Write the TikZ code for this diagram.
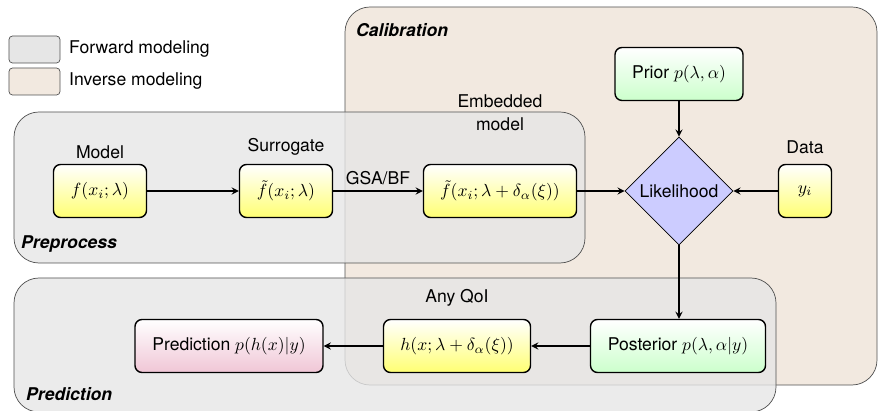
\documentclass[tikz,border=0pt]{standalone}
\usepackage{fontspec}
\setmainfont{TeX Gyre Heros}
\usetikzlibrary{arrows,%
                shapes.geometric,%
                positioning}
\usepackage{amsmath}
\definecolor{calibfill}{RGB}{242,233,224}
\definecolor{fwdfill}{RGB}{230,230,230}
\definecolor{predpink}{RGB}{240,198,214}
\definecolor{boxline}{RGB}{80,80,80}

\begin{document}
\begin{tikzpicture}[>=stealth]
\tikzstyle{group} = [draw=boxline,rounded corners=0.5cm]
\tikzstyle{legend} = [draw=boxline,rounded corners=2pt]
\tikzstyle{grouplabel} = [anchor=west,font=\bfseries\itshape]
\tikzstyle{block} = [draw,thick,rounded corners=4pt,minimum height=1.06cm]
\tikzstyle{yblock} = [block,top color=white,bottom color=yellow!55]
\tikzstyle{gblock} = [block,top color=white,bottom color=green!20]
\tikzstyle{pblock} = [block,top color=white,bottom color=predpink]
\tikzstyle{check} = [draw,shape=diamond,fill=blue!20,minimum width=2.16cm,minimum height=2.16cm,inner sep=0pt]
\tikzstyle{edge} = [draw,thick,->]

\useasboundingbox (0,0) rectangle (17.56,8.2);

% groups
\draw[group,fill=calibfill] (6.9,0.5) rectangle (17.54,8.06);
\draw[group,fill=fwdfill,fill opacity=0.8] (0.28,2.94) rectangle (11.7,5.96);
\draw[group,fill=fwdfill,fill opacity=0.8] (0.28,-0.04) rectangle (15.52,2.64);
\draw (7.0,7.6) node[grouplabel] (calib) {Calibration};
\draw (0.3,3.32) node[grouplabel] (prep) {Preprocess};
\draw (0.4,0.32) node[grouplabel] (predict) {Prediction};

% legend
\draw[legend,fill=fwdfill] (0.18,6.94) rectangle (1.2,7.48);
\draw[legend,fill=calibfill] (0.18,6.3) rectangle (1.2,6.84);
\draw (1.26,7.22) node[anchor=west] (fwd) {Forward modeling};
\draw (1.26,6.58) node[anchor=west] (inv) {Inverse modeling};

% blocks
\draw (2.0,4.38) node[yblock,minimum width=1.86cm] (model) {$f(x_i;\lambda)$};
\draw (5.72,4.38) node[yblock,minimum width=1.86cm] (surr) {$\tilde{f}(x_i;\lambda)$};
\draw (10.0,4.38) node[yblock,minimum width=3.06cm] (embed) {$\tilde{f}(x_i;\lambda+\delta_\alpha(\xi))$};
\draw (13.58,4.38) node[check] (lik) {Likelihood};
\draw (16.1,4.38) node[yblock,minimum width=1.06cm] (data) {$y_i$};
\draw (13.58,6.72) node[gblock,minimum width=2.56cm] (prior) {Prior $p(\lambda,\alpha)$};
\draw (13.56,1.28) node[gblock,minimum width=3.5cm] (post) {Posterior $p(\lambda,\alpha|y)$};
\draw (9.14,1.28) node[yblock,minimum width=2.94cm] (qoi) {$h(x;\lambda+\delta_\alpha(\xi))$};
\draw (4.58,1.28) node[pblock,minimum width=3.76cm] (pred) {Prediction $p(h(x)|y)$};

% titles
\draw (2.0,5.16) node (modeltitle) {Model};
\draw (5.72,5.26) node (surrtitle) {Surrogate};
\draw (10.0,5.94) node[align=center] (embedtitle) {Embedded\\[1pt]model};
\draw (16.1,5.26) node (datatitle) {Data};
\draw (9.14,2.24) node (qoititle) {Any QoI};

% flow
\path[edge] (model) -- (surr);
\path[edge] (surr) -- node[above] {GSA/BF} (embed);
\path[edge] (embed) -- (lik);
\path[edge] (data) -- (lik);
\path[edge] (prior) -- (lik);
\path[edge] (lik) -- (lik |- post.north);
\path[edge] (post) -- (qoi);
\path[edge] (qoi) -- (pred);
\end{tikzpicture}
\end{document}
